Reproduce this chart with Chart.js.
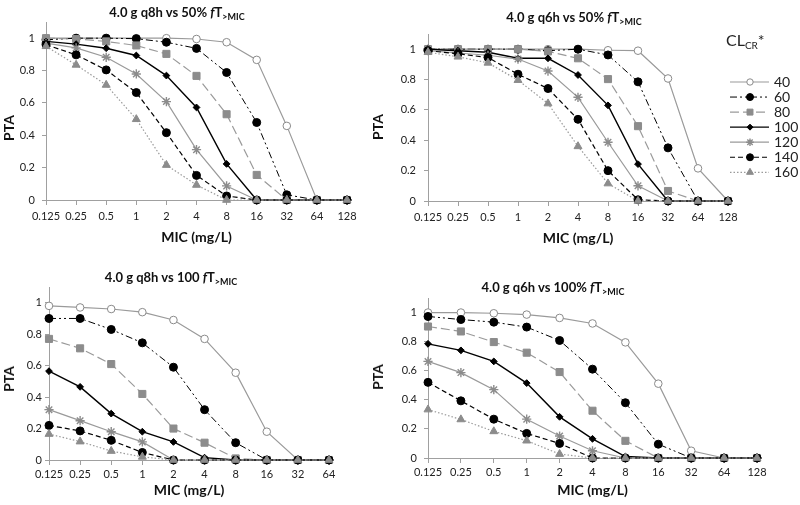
<!DOCTYPE html>
<html><head><meta charset="utf-8">
<script src="https://cdn.jsdelivr.net/npm/chart.js@4/dist/chart.umd.min.js"></script>
<style>
body{margin:0;width:800px;height:505px;position:relative;background:#fff;font-family:Lato,"Open Sans",sans-serif;overflow:hidden}
.box{position:absolute}
.ttl{position:absolute;transform:translate(-50%,-50%);font-weight:bold;font-size:13px;white-space:nowrap;color:#111;line-height:16px}
.ttl sub{font-size:9px;vertical-align:-3px;line-height:0}
.pta{position:absolute;transform:translate(-50%,-50%) rotate(-90deg);font-weight:bold;font-size:14px;color:#111;line-height:16px}
.lgt{position:absolute;left:726px;top:31px;font-size:16px;color:#222;line-height:18px;white-space:nowrap}
.lgt sub{font-size:10px;vertical-align:-3px;line-height:0}
</style></head><body>
<div class="box" style="left:0;top:0;width:400px;height:252px"><canvas id="c1"></canvas></div>
<div class="box" style="left:400px;top:0;width:400px;height:252px"><canvas id="c2"></canvas></div>
<div class="box" style="left:0;top:252px;width:400px;height:253px"><canvas id="c3"></canvas></div>
<div class="box" style="left:400px;top:252px;width:400px;height:253px"><canvas id="c4"></canvas></div>

<div class="ttl" style="left:177px;top:12px">4.0 g q8h vs 50% <i>f</i>T<sub>&gt;MIC</sub></div>
<div class="ttl" style="left:574px;top:17px">4.0 g q6h vs 50% <i>f</i>T<sub>&gt;MIC</sub></div>
<div class="ttl" style="left:171px;top:277px">4.0 g q8h vs 100 <i>f</i>T<sub>&gt;MIC</sub></div>
<div class="ttl" style="left:553px;top:287px">4.0 g q6h vs 100% <i>f</i>T<sub>&gt;MIC</sub></div>
<div class="pta" style="left:9px;top:128px">PTA</div>
<div class="pta" style="left:378px;top:127px">PTA</div>
<div class="pta" style="left:9px;top:379px">PTA</div>
<div class="pta" style="left:378px;top:377px">PTA</div>
<div class="lgt">CL<sub>CR</sub>*</div>

<script>
// ---- data ----
const micA = ['0.125','0.25','0.5','1','2','4','8','16','32','64','128'];
const micB = ['0.125','0.25','0.5','1','2','4','8','16','32','64'];
const clcr = ['40','60','80','100','120','140','160'];

// 4.0 g q8h vs 50% fT>MIC (rows: CLcr 40..160)
const q8h50 = [
  [1,1,1,1,1,0.995,0.975,0.866,0.458,0,0],
  [0.99,1,1,0.997,0.975,0.937,0.788,0.479,0.032,0,0],
  [1,0.995,0.98,0.955,0.903,0.767,0.53,0.155,0,0,0],
  [0.98,0.963,0.938,0.893,0.769,0.572,0.223,0,0,0,0],
  [0.97,0.94,0.882,0.779,0.608,0.311,0.087,0,0,0,0],
  [0.96,0.897,0.804,0.664,0.416,0.152,0.025,0,0,0,0],
  [0.95,0.835,0.711,0.499,0.216,0.093,0,0,0,0,0]
];
// 4.0 g q6h vs 50% fT>MIC
const q6h50 = [
  [1,1,1,1,1,1,0.993,0.99,0.807,0.215,0],
  [1,1,1,1,0.99,1,0.962,0.785,0.35,0,0],
  [1,1,1,1,0.985,0.94,0.803,0.493,0.066,0,0],
  [1,0.99,0.98,0.94,0.94,0.83,0.63,0.243,0,0,0],
  [0.99,0.975,0.96,0.935,0.856,0.683,0.387,0.1,0,0,0],
  [0.99,0.97,0.945,0.835,0.741,0.538,0.2,0.008,0,0,0],
  [0.98,0.95,0.91,0.796,0.642,0.36,0.115,0,0,0,0]
];
// 4.0 g q8h vs 100 fT>MIC
const q8h100 = [
  [0.98,0.97,0.96,0.94,0.89,0.77,0.555,0.18,0,0],
  [0.9,0.9,0.83,0.745,0.59,0.32,0.11,0,0,0],
  [0.77,0.71,0.61,0.42,0.2,0.11,0.01,0,0,0],
  [0.565,0.465,0.295,0.18,0.115,0.015,0,0,0,0],
  [0.32,0.25,0.18,0.115,0,0,0,0,0,0],
  [0.22,0.185,0.125,0.048,0,0,0,0,0,0],
  [0.165,0.117,0.057,0.02,0,0,0,0,0,0]
];
// 4.0 g q6h vs 100% fT>MIC
const q6h100 = [
  [1,1,0.995,0.986,0.963,0.925,0.795,0.511,0.05,0,0],
  [0.973,0.952,0.934,0.9,0.808,0.611,0.38,0.095,0,0,0],
  [0.904,0.87,0.797,0.724,0.591,0.325,0.118,0,0,0,0],
  [0.785,0.74,0.664,0.515,0.283,0.132,0.01,0,0,0,0],
  [0.664,0.587,0.47,0.267,0.151,0.05,0,0,0,0,0],
  [0.52,0.393,0.267,0.169,0.1,0,0,0,0,0,0],
  [0.333,0.265,0.183,0.119,0.027,0,0,0,0,0,0]
];

// ---- styles ----
const FONT = 'Lato, "Open Sans", sans-serif';
const styles = [
  {color:'#9a9a9a', dash:[], ps:'circle', r:3.8, lr:3.2, fill:'#ffffff', pb:'#8a8a8a', bw:1.2, pbw:1},
  {color:'#000000', dash:[7,3,2,3,2,3], ps:'circle', r:4, lr:3.5, fill:'#000000', pb:'#000000', bw:1, pbw:1},
  {color:'#9a9a9a', dash:[9,4], ps:'rect', r:5, lr:4.2, fill:'#8c8c8c', pb:'#8c8c8c', bw:1.2, pbw:1},
  {color:'#000000', dash:[], ps:'rectRot', r:3.4, lr:3, fill:'#000000', pb:'#000000', bw:1.4, pbw:1},
  {color:'#9a9a9a', dash:[], ps:'star', r:4.6, lr:3.8, fill:'#8c8c8c', pb:'#8c8c8c', bw:1.2, pbw:1.4},
  {color:'#000000', dash:[5,3], ps:'circle', r:4, lr:3.5, fill:'#000000', pb:'#000000', bw:1.2, pbw:1},
  {color:'#9a9a9a', dash:[1.5,2], ps:'triangle', r:4.6, lr:4, fill:'#8c8c8c', pb:'#8c8c8c', bw:1.2, pbw:1}
];

function buildDatasets(rows){
  return rows.map((vals,i)=>{
    const s = styles[i];
    return {
      label: clcr[i], data: vals,
      borderColor: s.color, borderWidth: s.bw, borderDash: s.dash,
      pointStyle: s.ps, pointRadius: s.r, pointBackgroundColor: s.fill,
      pointBorderColor: s.pb, pointBorderWidth: s.pbw,
      tension: 0, fill: false, clip: false, order: 6 - i
    };
  });
}

const legendPlugin = {
  id: 'lineLegend',
  afterDraw(chart){
    const ctx = chart.ctx;
    chart.data.datasets.forEach((ds,i)=>{
      const y = 82 + i*15.05;
      const st = styles[i];
      ctx.save();
      ctx.strokeStyle = ds.borderColor; ctx.lineWidth = ds.borderWidth;
      ctx.setLineDash(ds.borderDash);
      ctx.beginPath(); ctx.moveTo(330,y); ctx.lineTo(369,y); ctx.stroke();
      ctx.setLineDash([]);
      ctx.fillStyle = ds.pointBackgroundColor; ctx.strokeStyle = ds.pointBorderColor;
      ctx.lineWidth = ds.pointBorderWidth;
      if (Chart.helpers && Chart.helpers.drawPoint) {
        Chart.helpers.drawPoint(ctx, {pointStyle: ds.pointStyle, radius: st.lr, rotation: 0, borderWidth: ds.pointBorderWidth}, 350, y);
      } else {
        ctx.beginPath(); ctx.arc(350,y,st.lr,0,Math.PI*2); ctx.fill(); ctx.stroke();
      }
      ctx.fillStyle = '#222'; ctx.font = '14px ' + FONT;
      ctx.textBaseline = 'middle'; ctx.textAlign = 'left';
      ctx.fillText(ds.label, 374, y + 0.5);
      ctx.restore();
    });
  }
};

function makeChart(id, labels, rows, L, plugins){
  return new Chart(document.getElementById(id), {
    type: 'line',
    data: { labels: labels, datasets: buildDatasets(rows) },
    plugins: plugins || [],
    options: {
      responsive: true, maintainAspectRatio: false, animation: false,
      layout: { padding: { left: 0, top: L.top, right: L.right, bottom: 0 } },
      plugins: { legend: { display: false }, tooltip: { enabled: false } },
      scales: {
        x: {
          type: 'category', offset: false,
          grid: { display: true, drawOnChartArea: false, drawTicks: true, tickLength: 5, color: '#a0a0a0', offset: false },
          border: { color: '#a0a0a0', width: 1 },
          ticks: { color: '#222', font: { size: 11, family: FONT }, padding: L.xpad, maxRotation: 0, autoSkip: false },
          title: { display: true, text: 'MIC (mg/L)', color: '#111', font: { size: 14, weight: 'bold', family: FONT }, padding: { top: 0, bottom: L.tpad } },
          afterFit: s => { s.height = L.xh; }
        },
        y: {
          min: 0, max: 1.1,
          grid: { display: true, drawOnChartArea: false, drawTicks: true, tickLength: 4, color: '#a0a0a0' },
          border: { color: '#a0a0a0', width: 1 },
          ticks: {
            stepSize: 0.1, includeBounds: false, color: '#222', padding: L.ypad,
            font: { size: 11, family: FONT },
            callback: v => { const k = Math.round(v*10); return (k % 2 === 0) ? String(k/10) : ''; }
          },
          afterFit: s => { s.width = L.yw; }
        }
      }
    }
  });
}

makeChart('c1', micA, q8h50,  {top:22, right:53, xh:52, yw:46, xpad:5, ypad:7, tpad:6.6});
makeChart('c2', micA, q6h50,  {top:34, right:72, xh:51, yw:28, xpad:5, ypad:8, tpad:5.6}, [legendPlugin]);
makeChart('c3', micB, q8h100, {top:35, right:71, xh:45, yw:49, xpad:3, ypad:3, tpad:6.6});
makeChart('c4', micA, q6h100, {top:46, right:43, xh:47, yw:28, xpad:3, ypad:7, tpad:6.6});
</script>
</body></html>
